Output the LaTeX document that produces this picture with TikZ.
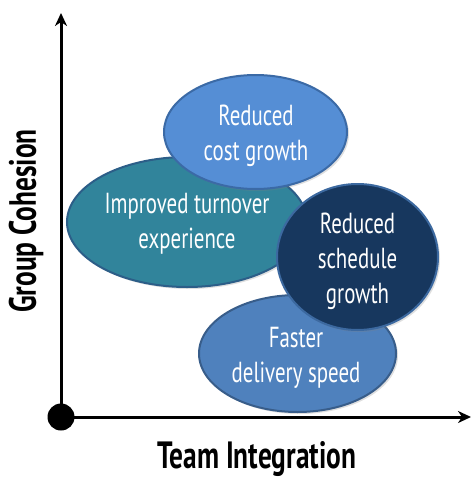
\documentclass[tikz,border=0pt]{standalone}
\usepackage{fontspec}
\setmainfont{PT Sans}[FakeStretch=0.72]
\usetikzlibrary{shapes.geometric,arrows.meta,shadows}
\definecolor{costblue}{HTML}{558ED5}
\definecolor{costedge}{HTML}{3B6AA6}
\definecolor{turnteal}{HTML}{31849B}
\definecolor{turnedge}{HTML}{2C5E88}
\definecolor{schednavy}{HTML}{17375E}
\definecolor{schededge}{HTML}{3C69A0}
\definecolor{fastblue}{HTML}{4F81BD}
\definecolor{fastedge}{HTML}{385D8A}
\begin{document}
\begin{tikzpicture}[x=1pt,y=-1pt,
  bubble/.style={ellipse, draw, line width=2pt, inner sep=0pt,
    drop shadow={opacity=0.25, shadow xshift=2pt, shadow yshift=-2pt}},
  bubbletext/.style={text=white, align=center, font=\fontsize{29}{35}\selectfont},
  axis/.style={line width=3pt, -{Stealth[length=13pt,width=12pt,inset=4pt]}},
  axislabel/.style={inner sep=0pt, font=\bfseries\fontsize{38}{42}\selectfont}]
\useasboundingbox (0,0) rectangle (472,479);
% bubbles, back to front
\node[bubble, fill=turnteal, draw=turnedge, minimum width=240pt, minimum height=130pt] (turnover) at (187,222) {};
\node[bubbletext] (turnovertext) at (187,224) {Improved turnover\\experience};
\node[bubble, fill=costblue, draw=costedge, minimum width=183pt, minimum height=114pt] (cost) at (255.5,132) {};
\node[bubbletext] (costtext) at (256,136) {Reduced\\cost growth};
\node[bubble, fill=fastblue, draw=fastedge, minimum width=197pt, minimum height=117pt] (faster) at (297.5,353.5) {};
\node[bubbletext] (fastertext) at (296,357.5) {Faster\\delivery speed};
\node[bubble, fill=schednavy, draw=schededge, minimum width=161pt, minimum height=146pt] (schedule) at (357.5,257) {};
\node[bubbletext] (scheduletext) at (357.5,261) {Reduced\\schedule\\growth};
% axes
\node[circle, fill=black, minimum size=27pt, inner sep=0pt] (origin) at (61,417) {};
\coordinate (ytip) at (61,13);
\coordinate (xtip) at (471,417);
\draw[axis] (origin.center) -- (ytip);
\draw[axis] (origin.center) -- (xtip);
\node[axislabel] (xlabel) at (257,459) {Team Integration};
\node[axislabel, rotate=90] (ylabel) at (26,221) {Group Cohesion};
\end{tikzpicture}
\end{document}
